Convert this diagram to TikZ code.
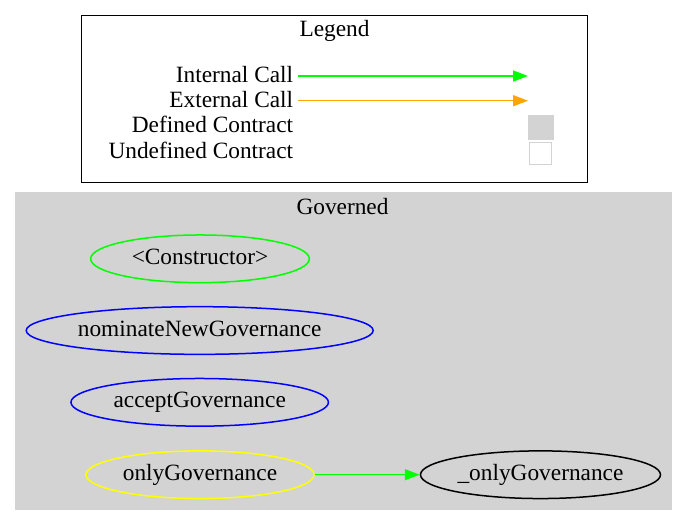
\documentclass[tikz,border=0pt]{standalone}
\usepackage{fontspec}
\setmainfont{Liberation Serif}
\usetikzlibrary{shapes.geometric,arrows.meta}
\definecolor{gvgray}{RGB}{211,211,211}
\definecolor{gvgreen}{RGB}{0,255,0}
\definecolor{gvorange}{RGB}{255,165,0}
\definecolor{gvyellow}{RGB}{255,255,0}
\definecolor{gvblue}{RGB}{0,0,255}
\begin{document}
\begin{tikzpicture}[x=0.6pt,y=-0.6pt,
  every node/.style={font=\fontsize{14}{17}\selectfont},
  fn/.style={ellipse, draw, line width=0.9pt, inner sep=0pt, minimum height=28.6pt, text height=10pt, text depth=3.4pt},
  lbl/.style={anchor=base east, inner sep=0pt},
  ttl/.style={anchor=base, inner sep=0pt},
  call/.style={line width=0.9pt, -{Triangle[length=9pt,width=6.6pt]}},
  ]
\useasboundingbox (0,0) rectangle (687,525);
% legend
\node[draw=black, line width=0.9pt, minimum width=303.6pt, minimum height=100.2pt, inner sep=0pt] (legend) at (334.7,99.2) {};
\node[ttl] (legendtitle) at (334.5,36) {Legend};
\node[lbl] (lint) at (293.5,82.3) {Internal Call};
\node[lbl] (lext) at (293.5,107.3) {External Call};
\node[lbl] (ldef) at (293.5,132.7) {Defined Contract};
\node[lbl] (lund) at (293.5,158.3) {Undefined Contract};
\coordinate (ics) at (298,76);
\coordinate (ice) at (528,76);
\coordinate (ecs) at (298,100.7);
\coordinate (ece) at (528,100.7);
\draw[call, gvgreen] (ics) -- (ice);
\draw[call, gvorange] (ecs) -- (ece);
\node[fill=gvgray, draw=none, minimum width=15.8pt, minimum height=15pt, inner sep=0pt] (defbox) at (540.8,127.5) {};
\node[fill=white, draw=gvgray, line width=0.6pt, minimum width=13pt, minimum height=13.2pt, inner sep=0pt] (undbox) at (540.8,153.3) {};
% cluster
\node[fill=gvgray, draw=gvgray, minimum width=393.7pt, minimum height=190.2pt, inner sep=0pt] (governed) at (343.4,350.8) {};
\node[ttl] (govtitle) at (342.5,214.3) {Governed};
\node[fn, draw=gvgreen, minimum width=131.2pt] (ctor) at (200,258.8) {<Constructor>};
\node[fn, draw=gvblue, minimum width=208.2pt] (nom) at (199.7,330.5) {nominateNewGovernance};
\node[fn, draw=gvblue, minimum width=154.5pt] (acc) at (199.7,402.3) {acceptGovernance};
\node[fn, draw=gvyellow, minimum width=136.8pt] (og) at (200,474.7) {onlyGovernance};
\node[fn, draw=black, minimum width=144pt] (og2) at (540.5,474.7) {\_onlyGovernance};
\draw[call, gvgreen] (og) -- (og2);
\end{tikzpicture}
\end{document}
